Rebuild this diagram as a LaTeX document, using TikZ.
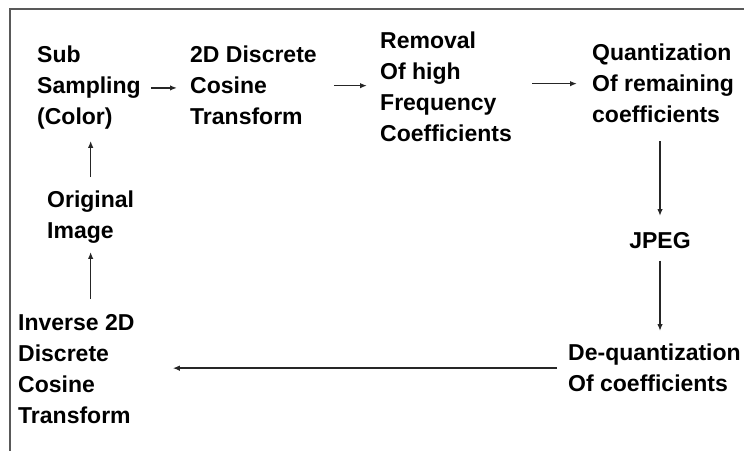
\documentclass[tikz,border=0pt]{standalone}
\usepackage{fontspec}
\setmainfont{Liberation Sans}
\usetikzlibrary{arrows.meta}

\begin{document}
\begin{tikzpicture}[x=1pt, y=-1pt,
    lbl/.style={anchor=north west, inner sep=0pt, align=left,
                font=\fontsize{23}{31}\selectfont\bfseries},
    arr/.style={-{Latex[length=7pt,width=5.5pt]}, line width=1.4pt, black!85},
    frame/.style={line width=2pt, black!65}]
\useasboundingbox (0,0) rectangle (744,451);
\draw[frame] (744,9) -- (10,9) -- (10,451);
\node[lbl] (sub) at (37,46) {Sub\\Sampling\\(Color)};
\node[lbl] (dct) at (190,46) {2D Discrete\\Cosine\\Transform};
\node[lbl] (rem) at (380,32) {Removal\\Of high\\Frequency\\Coefficients};
\node[lbl] (quant) at (592,44) {Quantization\\Of remaining\\coefficients};
\node[lbl, anchor=north] (jpeg) at (660,232) {JPEG};
\node[lbl] (deq) at (568,344) {De-quantization\\Of coefficients};
\node[lbl] (idct) at (18,314) {Inverse 2D\\Discrete\\Cosine\\Transform};
\node[lbl] (orig) at (47,191) {Original\\Image};
\draw[arr, shorten <=10pt, shorten >=13pt] (sub.east) -- (sub.east -| dct.west);
\draw[arr, shorten <=17pt, shorten >=13pt] (dct.east) -- (dct.east -| rem.west);
\draw[arr, shorten <=20pt, shorten >=15pt] (rem.east |- quant.west) -- (quant.west);
\draw[arr, shorten <=18pt, shorten >=16pt] (quant.south -| jpeg.north) -- (jpeg.north);
\draw[arr, shorten <=12pt, shorten >=13pt] (jpeg.south) -- (jpeg.south |- deq.north);
\draw[arr, shorten <=11pt, shorten >=38pt] (deq.west) -- (deq.west -| idct.east);
\draw[arr, shorten <=15pt, shorten >=8pt] (orig.south |- idct.north) -- (orig.south);
\draw[arr, shorten <=14pt, shorten >=11pt] (orig.north) -- (orig.north |- sub.south);
\end{tikzpicture}
\end{document}
